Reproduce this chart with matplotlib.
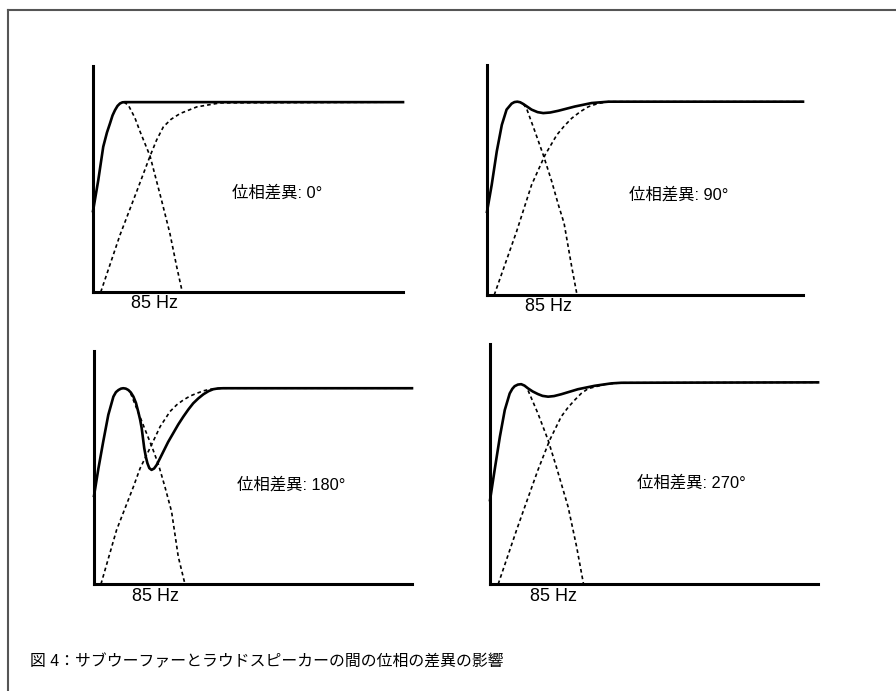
import numpy as np
import matplotlib
matplotlib.use('Agg')
import matplotlib.pyplot as plt
from matplotlib.lines import Line2D

# Latin in an Arial-like face, Japanese from the CJK family
plt.rcParams['font.family'] = ['Liberation Sans', 'Noto Sans CJK JP']

# x: position along the frequency axis (0..1), y: level (1 = flat response)
phase_labels = ['位相差異: 0°', '位相差異: 90°', '位相差異: 180°', '位相差異: 270°']
crossover_label = '85 Hz'
crossover_pos = [0.197, 0.196, 0.192, 0.192]
caption = '図 4：サブウーファーとラウドスピーカーの間の位相の差異の影響'

# 0 deg
sum0_x = [0.0, 0.017, 0.033, 0.045, 0.055, 0.063, 0.071, 0.079, 0.087, 0.095, 0.103, 1.0]
sum0_y = [0.426, 0.589, 0.765, 0.84, 0.889, 0.93, 0.958, 0.98, 0.993, 0.999, 1.0, 1.0]
low0_x = [0.10, 0.114, 0.135, 0.152, 0.184, 0.221, 0.248, 0.27, 0.288]
low0_y = [1.0, 0.984, 0.918, 0.844, 0.716, 0.484, 0.309, 0.133, 0.0]
high0_x = [0.025, 0.087, 0.141, 0.184, 0.205, 0.227, 0.252, 0.281, 0.335, 0.41, 1.0]
high0_y = [0.0, 0.300, 0.530, 0.716, 0.80, 0.870, 0.91, 0.940, 0.975, 0.996, 1.0]

# 90 deg
sum1_x = [0.0, 0.015, 0.031, 0.047, 0.062, 0.078, 0.087, 0.096, 0.105, 0.115,
          0.141, 0.16, 0.178, 0.2, 0.226, 0.278, 0.331, 0.384, 1.0]
sum1_y = [0.43, 0.57, 0.743, 0.88, 0.959, 0.99, 0.998, 1.0, 0.997, 0.988,
          0.959, 0.946, 0.941, 0.944, 0.953, 0.975, 0.993, 1.0, 1.0]
low1_x = [0.115, 0.125, 0.152, 0.178, 0.205, 0.226, 0.244, 0.268, 0.285]
low1_y = [0.988, 0.966, 0.845, 0.725, 0.587, 0.466, 0.371, 0.147, 0.0]
high1_x = [0.023, 0.094, 0.141, 0.184, 0.221, 0.245, 0.268, 0.295, 0.321, 0.35, 0.384, 1.0]
high1_y = [0.0, 0.33, 0.569, 0.725, 0.828, 0.875, 0.914, 0.948, 0.974, 0.99, 1.0, 1.0]

# 180 deg
sum2_x = [0.0, 0.014, 0.029, 0.045, 0.061, 0.069, 0.077, 0.085, 0.092, 0.1, 0.108,
          0.116, 0.124, 0.132, 0.139, 0.145, 0.15, 0.154, 0.158, 0.163, 0.168,
          0.174, 0.181, 0.189, 0.197, 0.207, 0.218, 0.233, 0.249, 0.265, 0.281,
          0.297, 0.312, 0.328, 0.344, 0.36, 0.375, 0.39, 0.407, 1.0]
sum2_y = [0.45, 0.591, 0.727, 0.864, 0.957, 0.98, 0.991, 0.998, 1.0, 0.998, 0.991,
          0.978, 0.957, 0.925, 0.881, 0.84, 0.796, 0.745, 0.694, 0.65, 0.617,
          0.592, 0.583, 0.59, 0.608, 0.64, 0.676, 0.725, 0.77, 0.815, 0.855,
          0.892, 0.923, 0.948, 0.969, 0.985, 0.995, 0.999, 1.0, 1.0]
low2_x = [0.115, 0.134, 0.161, 0.182, 0.203, 0.223, 0.244, 0.265, 0.286]
low2_y = [0.975, 0.898, 0.787, 0.702, 0.609, 0.497, 0.37, 0.14, 0.0]
high2_x = [0.022, 0.071, 0.124, 0.145, 0.176, 0.208, 0.239, 0.26, 0.281, 0.302,
           0.323, 0.345, 0.365, 0.407, 1.0]
high2_y = [0.0, 0.276, 0.497, 0.591, 0.694, 0.804, 0.881, 0.915, 0.94, 0.96,
           0.974, 0.987, 0.995, 1.0, 1.0]

# 270 deg
sum3_x = [0.0, 0.014, 0.03, 0.045, 0.06, 0.068, 0.075, 0.085, 0.095, 0.105, 0.116,
          0.13, 0.146, 0.16, 0.177, 0.195, 0.217, 0.268, 0.319, 0.37, 0.4, 1.0]
sum3_y = [0.416, 0.565, 0.73, 0.863, 0.945, 0.968, 0.981, 0.989, 0.991, 0.984, 0.97,
          0.955, 0.942, 0.933, 0.929, 0.932, 0.941, 0.966, 0.983, 0.995, 0.998, 1.0]
low3_x = [0.116, 0.146, 0.177, 0.202, 0.223, 0.238, 0.264, 0.285]
low3_y = [0.96, 0.846, 0.714, 0.582, 0.466, 0.383, 0.185, 0.0]
high3_x = [0.025, 0.081, 0.106, 0.146, 0.182, 0.217, 0.238, 0.258, 0.278, 0.299,
           0.35, 0.4, 1.0]
high3_y = [0.0, 0.268, 0.383, 0.565, 0.714, 0.83, 0.876, 0.912, 0.945, 0.969,
           0.99, 0.998, 1.0]

sums = [(sum0_x, sum0_y), (sum1_x, sum1_y), (sum2_x, sum2_y), (sum3_x, sum3_y)]
lows = [(low0_x, low0_y), (low1_x, low1_y), (low2_x, low2_y), (low3_x, low3_y)]
highs = [(high0_x, high0_y), (high1_x, high1_y), (high2_x, high2_y), (high3_x, high3_y)]

# axes boxes in figure fraction [left, bottom, width, height]
boxes = [
    [0.1038, 0.5774, 0.3460, 0.3270],
    [0.5435, 0.5731, 0.3527, 0.3329],
    [0.1049, 0.1548, 0.3549, 0.3372],
    [0.5469, 0.1548, 0.3661, 0.3473],
]
label_pos = [(0.448, 0.521), (0.449, 0.517), (0.45, 0.506), (0.448, 0.50)]

fig = plt.figure(figsize=(8.96, 6.91), dpi=100)

for i in range(4):
    ax = fig.add_axes(boxes[i])
    ax.plot(lows[i][0], lows[i][1], color='black', lw=1.2,
            linestyle=(0, (2.2, 1.8)), clip_on=False)
    ax.plot(highs[i][0], highs[i][1], color='black', lw=1.2,
            linestyle=(0, (2.2, 1.8)), clip_on=False)
    ax.plot(sums[i][0], sums[i][1], color='black', lw=1.9,
            solid_joinstyle='round', clip_on=False)
    ax.set_xlim(0, 1)
    ax.set_ylim(0, 1.19)
    for s in ['top', 'right']:
        ax.spines[s].set_visible(False)
    for s in ['left', 'bottom']:
        ax.spines[s].set_linewidth(2.2)
    ax.set_yticks([])
    ax.set_xticks([crossover_pos[i]])
    ax.set_xticklabels([crossover_label], fontsize=13)
    ax.tick_params(axis='x', length=0, pad=2.5)
    ax.text(label_pos[i][0], label_pos[i][1], phase_labels[i], fontsize=11.8,
            ha='left', va='center')

fig.text(0.0335, 0.042, caption, fontsize=11.4, ha='left', va='center')

# frame along the top and left edge
fig.add_artist(Line2D([0.0084, 0.0084], [0.0, 0.9855], transform=fig.transFigure,
                      color='#555555', lw=1.5))
fig.add_artist(Line2D([0.0084, 1.0], [0.9855, 0.9855], transform=fig.transFigure,
                      color='#555555', lw=1.5))

fig.savefig('out.png', dpi=100)
